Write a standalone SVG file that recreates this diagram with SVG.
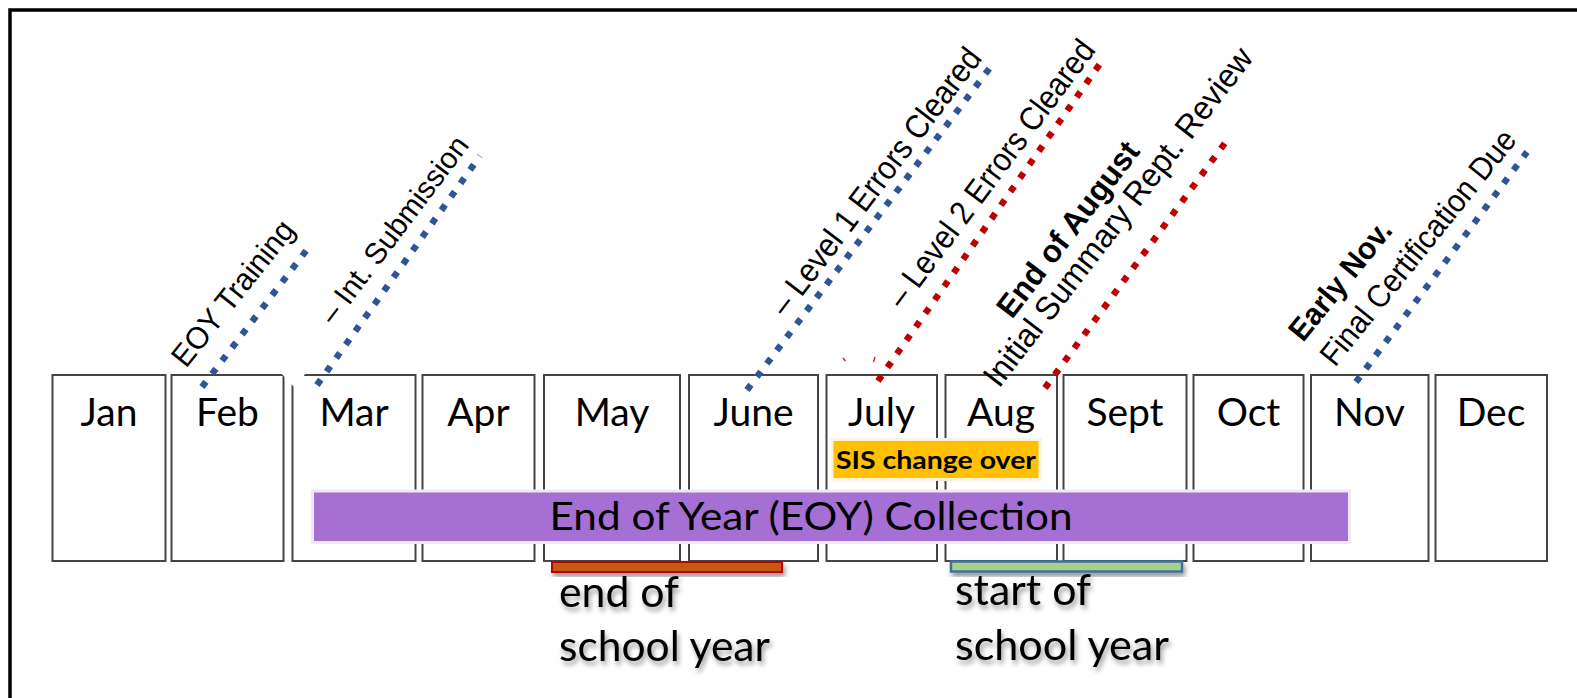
<svg xmlns="http://www.w3.org/2000/svg" width="1577" height="698" viewBox="0 0 1577 698">
<defs>
<style>
.box{fill:#fff;stroke:#444;stroke-width:2}
.mon{font-family:Lato,"Liberation Sans",sans-serif;font-size:39px;fill:#000;text-anchor:middle}
.dg{font-family:"Liberation Sans",Arial,sans-serif;fill:#000}
.dgb{font-family:"Liberation Sans",Arial,sans-serif;fill:#000;font-weight:bold}
.db{stroke:#2F5597;stroke-width:6.5;stroke-dasharray:6.5 10;fill:none}
.dr{stroke:#C00000;stroke-width:6.5;stroke-dasharray:6.5 10;fill:none}
.cap{font-family:Lato,"Liberation Sans",sans-serif;font-size:42px;fill:#000}
</style>
<filter id="sh" x="-10%" y="-30%" width="120%" height="180%">
<feDropShadow dx="2" dy="4" stdDeviation="2.5" flood-color="#000" flood-opacity="0.4"/>
</filter>
</defs>
<rect x="0" y="0" width="1577" height="698" fill="#fff"/>
<path d="M10 700 V10 H1580" fill="none" stroke="#000" stroke-width="3.5"/>

<g id="months">
<g id="jan"><rect class="box" x="52.5" y="375" width="113" height="186"/><text class="mon" x="109" y="426">Jan</text></g>
<g id="feb"><rect class="box" x="171.5" y="375" width="112" height="186"/><text class="mon" x="227.5" y="426">Feb</text></g>
<g id="mar"><rect class="box" x="292.5" y="375" width="123" height="186"/><text class="mon" x="354" y="426">Mar</text></g>
<g id="apr"><rect class="box" x="422.5" y="375" width="112" height="186"/><text class="mon" x="478.5" y="426">Apr</text></g>
<g id="may"><rect class="box" x="544" y="375" width="136" height="186"/><text class="mon" x="612" y="426">May</text></g>
<g id="june"><rect class="box" x="689" y="375" width="129" height="186"/><text class="mon" x="753.5" y="426">June</text></g>
<g id="july"><rect class="box" x="826.5" y="375" width="110.5" height="186"/><text class="mon" x="881.5" y="426">July</text></g>
<g id="aug"><rect class="box" x="945.5" y="375" width="111.5" height="186"/><text class="mon" x="1001" y="426">Aug</text></g>
<g id="sept"><rect class="box" x="1063.5" y="375" width="123" height="186"/><text class="mon" x="1125" y="426">Sept</text></g>
<g id="oct"><rect class="box" x="1193.5" y="375" width="110" height="186"/><text class="mon" x="1248.5" y="426">Oct</text></g>
<g id="nov"><rect class="box" x="1311" y="375" width="117.5" height="186"/><text class="mon" x="1369.5" y="426">Nov</text></g>
<g id="dec"><rect class="box" x="1435.5" y="375" width="111.5" height="186"/><text class="mon" x="1491" y="426">Dec</text></g>
</g>
<polygon points="280,372 294,387 298,387 306,372" fill="#fff"/>

<g id="labels">
<text class="dg" font-size="31" textLength="177" lengthAdjust="spacingAndGlyphs" transform="translate(186,369) rotate(-51.5)">EOY Training</text>
<text class="dg" font-size="30" textLength="226" lengthAdjust="spacingAndGlyphs" transform="translate(334,326) rotate(-53)">– Int. Submission</text>
<text class="dg" font-size="33" textLength="326" lengthAdjust="spacingAndGlyphs" transform="translate(786,318) rotate(-52.8)">– Level 1 Errors Cleared</text>
<text class="dg" font-size="33" textLength="324" lengthAdjust="spacingAndGlyphs" transform="translate(903,310) rotate(-53.3)">– Level 2 Errors Cleared</text>
<text class="dgb" font-size="32" textLength="212" lengthAdjust="spacingAndGlyphs" transform="translate(1012,320) rotate(-52.5)">End of August</text>
<text class="dg" font-size="33" textLength="418" lengthAdjust="spacingAndGlyphs" transform="translate(999,389) rotate(-52.3)">Initial Summary Rept. Review</text>
<text class="dgb" font-size="31" textLength="144" lengthAdjust="spacingAndGlyphs" transform="translate(1303,343) rotate(-51)">Early Nov.</text>
<text class="dg" font-size="32" textLength="292" lengthAdjust="spacingAndGlyphs" transform="translate(1335,368) rotate(-51.2)">Final Certification Due</text>
</g>

<g id="connectors">
<line class="db" x1="202" y1="387" x2="312" y2="243"/>
<line class="db" x1="317" y1="385" x2="480" y2="156"/>
<line class="db" x1="747" y1="390" x2="992" y2="65"/>
<line class="dr" x1="878" y1="381" x2="1104" y2="58"/>
<line class="dr" x1="1045" y1="388" x2="1225" y2="143"/>
<line class="db" x1="1356" y1="382" x2="1527" y2="152"/>
<line x1="843" y1="358" x2="845.5" y2="361" stroke="#e00000" stroke-width="1.2"/>
<line x1="875" y1="357" x2="873.5" y2="362" stroke="#e00000" stroke-width="1.2"/>
</g>

<g id="eoy-collection">
<rect x="312.5" y="491" width="1037" height="51.5" fill="#A56FD3" stroke="#efe8f5" stroke-width="3"/>
<text x="811" y="530" font-family="Lato, 'Liberation Sans', sans-serif" font-size="39" text-anchor="middle" textLength="523" lengthAdjust="spacingAndGlyphs" fill="#000">End of Year (EOY) Collection</text>
</g>

<g id="sis-change">
<rect x="832" y="439.5" width="208" height="40" fill="#FFC000" stroke="#fbf3df" stroke-width="3"/>
<text x="836" y="469" font-family="Lato, 'Liberation Sans', sans-serif" font-size="24" font-weight="bold" textLength="200" lengthAdjust="spacingAndGlyphs" fill="#000">SIS change over</text>
</g>

<g id="end-school-year">
<rect x="552" y="562" width="230" height="10" fill="#C55A11" stroke="#C00000" stroke-width="2" filter="url(#sh)"/>
<g filter="url(#sh)">
<text class="cap" x="559" y="607" textLength="120" lengthAdjust="spacingAndGlyphs">end of</text>
<text class="cap" x="559" y="661" textLength="211" lengthAdjust="spacingAndGlyphs">school year</text>
</g>
</g>

<g id="start-school-year">
<rect x="951" y="561.5" width="231" height="10" fill="#A9D18E" stroke="#41719C" stroke-width="2.5" filter="url(#sh)"/>
<g filter="url(#sh)">
<text class="cap" x="955" y="605" textLength="136" lengthAdjust="spacingAndGlyphs">start of</text>
<text class="cap" x="955" y="660" textLength="214" lengthAdjust="spacingAndGlyphs">school year</text>
</g>
</g>
</svg>
